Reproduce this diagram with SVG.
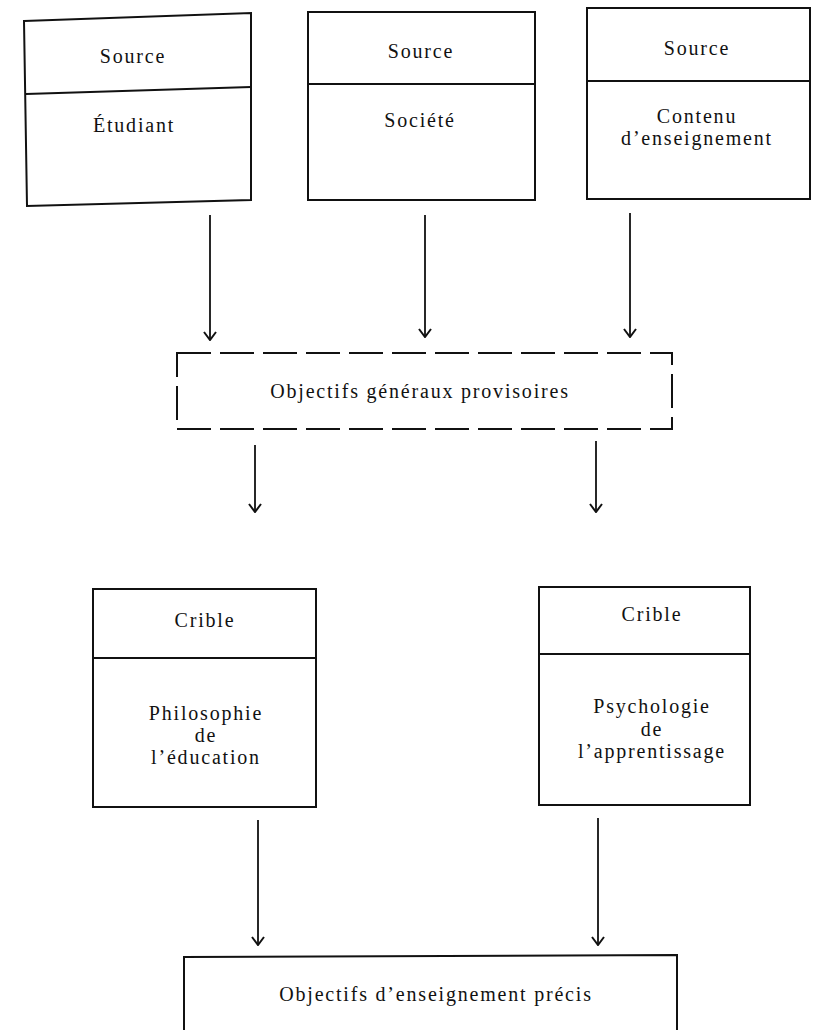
<svg xmlns="http://www.w3.org/2000/svg" width="816" height="1030" viewBox="0 0 816 1030">
  <style>
    .box { fill: none; stroke: #111; stroke-width: 2; stroke-linejoin: miter; }
    .dash { fill: none; stroke: #111; stroke-width: 2; stroke-dasharray: 34 9; }
    .rule { stroke: #111; stroke-width: 2; }
    .lbl { font-family: "Liberation Serif", "Times New Roman", serif; font-size: 20px; letter-spacing: 1.8px; fill: #111; text-anchor: middle; }
    .arrow { stroke: #111; stroke-width: 1.8; fill: none; marker-end: url(#head); }
  </style>
  <defs>
    <!-- open V arrowhead, drawn pointing along +x -->
    <marker id="head" viewBox="0 0 12 14" refX="11" refY="7" markerWidth="12" markerHeight="14" markerUnits="userSpaceOnUse" orient="auto">
      <path d="M3 1 L11 7 L3 13" fill="none" stroke="#111" stroke-width="2"/>
    </marker>
  </defs>
  <rect width="816" height="1030" fill="#fff"/>

  <!-- source boxes -->
  <g id="source-etudiant">
    <polygon class="box" points="24,21 251,13 251,200 27,206"/>
    <line class="rule" x1="26" y1="94" x2="251" y2="87"/>
    <text class="lbl" x="133" y="63">Source</text>
    <text class="lbl" x="134" y="132">Étudiant</text>
  </g>
  <g id="source-societe">
    <rect class="box" x="308" y="12" width="227" height="188"/>
    <line class="rule" x1="308" y1="84" x2="535" y2="84"/>
    <text class="lbl" x="421" y="58">Source</text>
    <text class="lbl" x="420" y="127">Société</text>
  </g>
  <g id="source-contenu">
    <rect class="box" x="587" y="8" width="223" height="191"/>
    <line class="rule" x1="587" y1="81" x2="810" y2="81"/>
    <text class="lbl" x="697" y="55">Source</text>
    <text class="lbl" x="697" y="123">Contenu</text>
    <text class="lbl" x="697" y="145">d’enseignement</text>
  </g>

  <!-- provisional general objectives -->
  <g id="objectifs-generaux">
    <rect class="dash" x="177" y="353" width="495" height="76"/>
    <text class="lbl" x="420" y="398">Objectifs généraux provisoires</text>
  </g>

  <!-- screens -->
  <g id="crible-philosophie">
    <rect class="box" x="93" y="589" width="223" height="218"/>
    <line class="rule" x1="93" y1="658" x2="316" y2="658"/>
    <text class="lbl" x="205" y="627">Crible</text>
    <text class="lbl" x="206" y="720">Philosophie</text>
    <text class="lbl" x="206" y="742">de</text>
    <text class="lbl" x="206" y="764">l’éducation</text>
  </g>
  <g id="crible-psychologie">
    <rect class="box" x="539" y="587" width="211" height="218"/>
    <line class="rule" x1="539" y1="654" x2="750" y2="654"/>
    <text class="lbl" x="652" y="621">Crible</text>
    <text class="lbl" x="652" y="713">Psychologie</text>
    <text class="lbl" x="652" y="736">de</text>
    <text class="lbl" x="652" y="758">l’apprentissage</text>
  </g>

  <!-- precise teaching objectives -->
  <g id="objectifs-precis">
    <polyline class="box" points="184,1032 184,957 677,955 677,1032"/>
    <text class="lbl" x="436" y="1001">Objectifs d’enseignement précis</text>
  </g>

  <!-- connectors -->
  <g id="connectors">
    <line class="arrow" x1="210" y1="215" x2="210" y2="340"/>
    <line class="arrow" x1="425" y1="215" x2="425" y2="337"/>
    <line class="arrow" x1="630" y1="213" x2="630" y2="337"/>
    <line class="arrow" x1="255" y1="445" x2="255" y2="512"/>
    <line class="arrow" x1="596" y1="441" x2="596" y2="512"/>
    <line class="arrow" x1="258" y1="820" x2="258" y2="945"/>
    <line class="arrow" x1="598" y1="818" x2="598" y2="945"/>
  </g>
</svg>
